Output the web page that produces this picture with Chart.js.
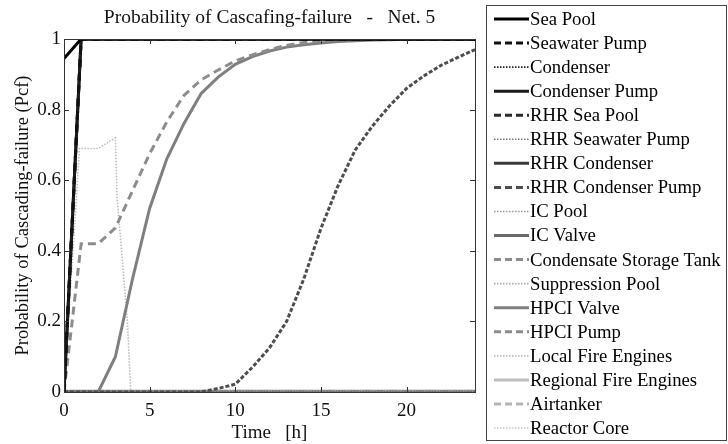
<!DOCTYPE html>
<html><head><meta charset="utf-8">
<script src="https://cdn.jsdelivr.net/npm/chart.js@4/dist/chart.umd.min.js"></script>
<style>html,body{margin:0;padding:0;background:#fff}#wrap{width:728px;height:444px}</style>
</head><body><div id="wrap"><canvas id="c" width="728" height="444"></canvas></div>
<script>
// ---- data ----
const seriesNames = ["Sea Pool","Seawater Pump","Condenser","Condenser Pump","RHR Sea Pool","RHR Seawater Pump","RHR Condenser","RHR Condenser Pump","IC Pool","IC Valve","Condensate Storage Tank","Suppression Pool","HPCI Valve","HPCI Pump","Local Fire Engines","Regional Fire Engines","Airtanker","Reactor Core"];
const xTicks = [0,5,10,15,20];
const yTicks = [0,0.2,0.4,0.6,0.8,1];

const tStep = [0,1,24];
const pSeaPool = [0.945,1,1];
const pRamp = [0,1,1];
const tFlat = [0,24];
const pZero = [0,0];

const tGrid = [0,1,2,3,4,5,6,7,8,9,10,11,12,13,14,15,16,17,18,19,20,21,22,23,24];
const pCondensateTank = [0,0.42,0.42,0.465,0.57,0.675,0.765,0.84,0.884,0.912,0.938,0.955,0.97,0.982,0.99,0.995,0.998,1,1,1,1,1,1,1,1];
const pHPCIValve = [0,0,0,0.1,0.32,0.52,0.66,0.76,0.845,0.892,0.928,0.95,0.966,0.977,0.984,0.989,0.993,0.995,0.997,0.998,0.999,1,1,1,1];
const tRHRPump = [0,8,8.5,9,10,11,12,13,14,15,16,17,18,19,20,21,22,23,24];
const pRHRPump = [0,0,0.005,0.01,0.022,0.07,0.125,0.2,0.32,0.463,0.584,0.685,0.753,0.81,0.86,0.895,0.925,0.948,0.97];
const tLocalFire = [0,0.9,2,3,3.1,3.7,3.9,24];
const pLocalFire = [0,0.69,0.69,0.72,0.55,0.2,0,0];

// per-series data source
const seriesT = [tStep,tStep,tStep,tStep,tStep,tStep,tStep,tRHRPump,tFlat,tFlat,tGrid,tFlat,tGrid,tFlat,tLocalFire,tFlat,tFlat,tFlat];
const seriesP = [pSeaPool,pRamp,pRamp,pRamp,pRamp,pRamp,pRamp,pRHRPump,pZero,pZero,pCondensateTank,pZero,pHPCIValve,pZero,pLocalFire,pZero,pZero,pZero];

// ---- styles ----
const colors = ["#000","#111","#222","#1a1a1a","#2a2a2a","#777","#3a3a3a","#4d4d4d","#999","#6a6a6a","#8c8c8c","#aaa","#7f7f7f","#8a8a8a","#bbb","#bdbdbd","#b4b4b4","#c8c8c8"];
const kinds = ["s","d","o","s","d","o","s","d","o","s","d","o","s","d","o","s","d","o"];
const dashOf = k => k==="d" ? [8,5] : (k==="o" ? [1.5,1.5] : []);
const widthOf = k => k==="o" ? 1.6 : 3;

const datasets = seriesNames.map((n,i)=>({
  label:n,
  data: seriesT[i].map((t,j)=>({x:t,y:seriesP[i][j]})),
  borderColor: colors[i],
  borderWidth: widthOf(kinds[i]),
  borderDash: dashOf(kinds[i]),
  pointRadius:0, tension:0, fill:false
}));
// S-curve drawn with short dense dashes as in the reference
datasets[7].borderDash=[4,2];
// thick light zero line along the bottom
datasets[15].borderWidth=5;

const serif = "'Liberation Serif','DejaVu Serif',serif";

const framePlugin = {
  id:'frame',
  afterDatasetsDraw(chart){
    const {ctx, chartArea:a, scales:{x,y}} = chart;
    ctx.save();
    ctx.strokeStyle="#333"; ctx.lineWidth=1;
    ctx.strokeRect(Math.round(a.left)+0.5, Math.round(a.top)+0.5, Math.round(a.right-a.left), Math.round(a.bottom-a.top));
    const L=5;
    ctx.beginPath();
    xTicks.forEach(v=>{const px=Math.round(x.getPixelForValue(v))+0.5;
      ctx.moveTo(px,a.bottom); ctx.lineTo(px,a.bottom-L);
      ctx.moveTo(px,a.top); ctx.lineTo(px,a.top+L);});
    yTicks.forEach(v=>{const py=Math.round(y.getPixelForValue(v))+0.5;
      ctx.moveTo(a.left,py); ctx.lineTo(a.left+L,py);
      ctx.moveTo(a.right,py); ctx.lineTo(a.right-L,py);});
    ctx.stroke();
    // legend
    const bx=486.5, by=5.5, bw=240, bh=435;
    ctx.strokeStyle="#444"; ctx.lineWidth=1;
    ctx.strokeRect(bx,by,bw,bh);
    ctx.font="18.7px "+serif; ctx.textBaseline="middle"; ctx.fillStyle="#000";
    chart.data.datasets.forEach((d,i)=>{
      const yy = 19 + i*24.06;
      ctx.save();
      ctx.strokeStyle=d.borderColor; ctx.lineWidth=Math.min(d.borderWidth,3);
      ctx.setLineDash(d.borderDash.length===2 && d.borderDash[0]>3 ? [7,4] : d.borderDash);
      ctx.beginPath(); ctx.moveTo(494,yy); ctx.lineTo(529,yy); ctx.stroke();
      ctx.restore();
      ctx.fillText(d.label, 530, yy+1);
    });
    ctx.restore();
  }
};

new Chart(document.getElementById('c'),{
  type:'line',
  data:{datasets},
  plugins:[framePlugin],
  options:{
    responsive:false, animation:false,
    layout:{padding:{left:0,right:253,top:0,bottom:0}},
    plugins:{
      legend:{display:false}, tooltip:{enabled:false},
      title:{display:true, fullSize:false, text:"Probability of Cascafing-failure   -   Net. 5",
        color:"#111", font:{family:serif,size:19.5,weight:'normal'}, padding:{top:6,bottom:9.6}}
    },
    scales:{
      x:{type:'linear',min:0,max:24,
        afterBuildTicks:s=>{s.ticks=xTicks.map(v=>({value:v}));},
        afterFit:s=>{s.height=52;},
        grid:{display:true,drawOnChartArea:false,drawTicks:false},
        border:{display:false},
        ticks:{color:"#111",padding:8,font:{family:serif,size:19},maxRotation:0,callback:v=>String(v)},
        title:{display:true,text:"Time   [h]",color:"#111",font:{family:serif,size:19},padding:{top:0,bottom:0}}
      },
      y:{type:'linear',min:0,max:1,
        afterBuildTicks:s=>{s.ticks=yTicks.map(v=>({value:v}));},
        afterFit:s=>{s.width=64;},
        grid:{display:true,drawOnChartArea:false,drawTicks:false},
        border:{display:false},
        ticks:{color:"#111",padding:3,font:{family:serif,size:19},callback:v=>String(v)},
        title:{display:true,text:"Probability of Cascading-failure (Pcf)",color:"#111",font:{family:serif,size:18.5},padding:{top:12,bottom:0}}
      }
    }
  }
});
</script></body></html>
